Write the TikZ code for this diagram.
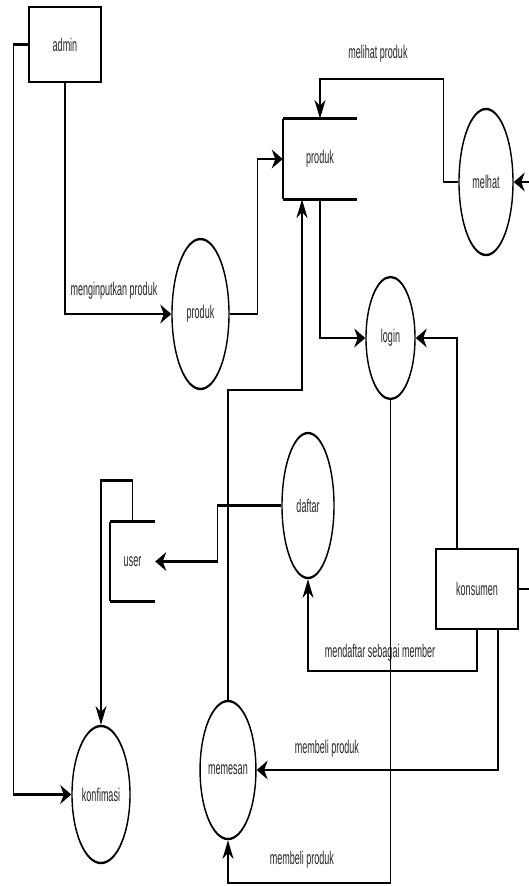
\documentclass[tikz,border=0pt]{standalone}
\usepackage{graphicx}
\usepackage{fontspec}
\setmainfont{Liberation Sans}
\usetikzlibrary{arrows.meta,shapes.geometric}
\newcommand{\TT}[1]{\scalebox{1}[1.2]{#1}}
\tikzset{
  flow/.style={line width=1.4pt, -{Stealth[length=11pt,width=11pt,inset=3.5pt]}},
  plainline/.style={line width=1.4pt},
  proc/.style={ellipse, draw, line width=1.4pt, inner sep=0pt, text=black!85},
  ent/.style={rectangle, draw, line width=1.4pt, inner sep=0pt, text=black!85},
  storen/.style={rectangle, inner sep=0pt, text=black!85},
  lbl/.style={text=black!85, inner sep=0pt},
}
\begin{document}
\begin{tikzpicture}
\useasboundingbox (0,0) rectangle (529pt,-886pt);
\fill[white] (0,0) rectangle (529pt,-886pt);
\begin{scope}[x=1pt, y=-0.588235pt, transform canvas={yscale=1.7}, font=\fontsize{9}{11}\selectfont]
  % nodes
  \node[ent, minimum width=72pt, minimum height=44.1pt] (admin) at (65,44.5) {\TT{admin}};
  \node[storen, minimum width=74pt, minimum height=47.06pt] (store) at (320,159) {\TT{produk}};
  \node[proc, minimum width=57pt, minimum height=88.2pt] (pproc) at (200.5,314) {\TT{produk}};
  \node[proc, minimum width=54pt, minimum height=85.9pt] (melhat) at (486,182) {\TT{melhat}};
  \node[proc, minimum width=49pt, minimum height=71.8pt] (login) at (390.5,338) {\TT{login}};
  \node[proc, minimum width=52pt, minimum height=85.3pt] (daftar) at (308,505.5) {\TT{daftar}};
  \node[storen, minimum width=45pt, minimum height=46.5pt] (user) at (132.5,561.5) {\TT{user}};
  \node[ent, minimum width=82pt, minimum height=47.06pt] (kons) at (477,589) {\TT{konsumen}};
  \node[proc, minimum width=58pt, minimum height=80.6pt] (konf) at (101,794.5) {\TT{konfimasi}};
  \node[proc, minimum width=52pt, minimum height=81.2pt] (mem) at (228,770) {\TT{memesan}};

  % data stores
  \draw[plainline] (store.north west) -- (store.north east);
  \draw[plainline] (store.south west) -- (store.south east);
  \draw[plainline] (store.north west) -- (store.south west);
  \draw[plainline] (user.north west) -- (user.north east);
  \draw[plainline] (user.south west) -- (user.south east);
  \draw[plainline] (user.north west) -- (user.south west);

  % labels
  \node[lbl] (l1) at (114,291) {\TT{menginputkan produk}};
  \node[lbl] (l2) at (378,54) {\TT{melihat produk}};
  \node[lbl] (l3) at (380,653) {\TT{mendaftar sebagai member}};
  \node[lbl] (l4) at (327,749) {\TT{membeli produk}};
  \node[lbl] (l5) at (302,860) {\TT{membeli produk}};

  % connectors
  \draw[flow] (admin.west) -- ++(-15,0) |- (konf.west);
  \draw[flow] (admin.south) |- (pproc.west);
  \draw[flow] (pproc.east) -- ++(27.5,0) |- (store.west);
  \coordinate (mp) at (320,79);
  \draw[flow] (melhat.west) -- ++(-15,0) |- (mp) -- (store.north);
  \coordinate (re1) at (529,182);
  \draw[flow] (re1) -- (melhat.east);
  \draw[flow] (store.south) |- (login.west);
  \coordinate (c7) at (302,390);
  \draw[flow] (mem.north) |- (c7) -- (c7 |- store.south);
  \draw[flow] ([xshift=-20pt]kons.north) |- (login.east);
  \draw[flow] (login.south) -- ++(0,483) -| (mem.south);
  \draw[flow] ([xshift=21pt]kons.south) |- (mem.east);
  \draw[flow] (kons.south) -- ++(0,41) -| (daftar.south);
  \coordinate (re2) at (529,589);
  \draw[plainline] (kons.east) -- (re2);
  \draw[flow] (daftar.west) -- ++(-64,0) |- (user.east);
  \draw[flow] (user.north) -- ++(0,-41) -| (konf.north);
\end{scope}
\end{tikzpicture}
\end{document}
